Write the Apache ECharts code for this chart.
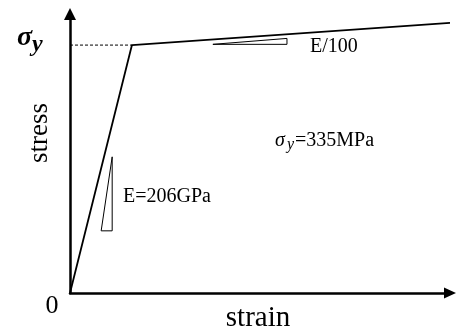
<!DOCTYPE html>
<html>
<head>
<meta charset="utf-8">
<script src="https://cdn.jsdelivr.net/npm/echarts@6/dist/echarts.min.js"></script>
<style>
  html, body { margin: 0; padding: 0; background: #fff; }
  #chart { width: 458px; height: 331px; }
</style>
</head>
<body>
<div id="chart"></div>
<script>
// bilinear stress-strain curve (schematic)
const strainPts = [0, 0.00163, 0.0100];
const stressPts = [0, 335, 365];
const yieldStrain = 0.00163;
const yieldStress = 335;
// slope triangles
const triElasticStrain = [0.00082, 0.00111, 0.00111, 0.00082];
const triElasticStress = [84, 184, 84, 84];
const triPlasticStrain = [0.00376, 0.00571, 0.00571, 0.00376];
const triPlasticStress = [336, 344, 336, 336];

const xMax = 0.0100;
const yMax = 377;

function zip(a, b) {
    return a.map(function (v, i) { return [v, b[i]]; });
}

const serif = '"Liberation Serif", "DejaVu Serif", serif';
const chart = echarts.init(document.getElementById('chart'));

chart.setOption({
    backgroundColor: '#fff',
    animation: false,
    grid: { left: 70, right: 8, top: 14, bottom: 38 },
    xAxis: {
        type: 'value',
        min: 0,
        max: xMax,
        axisLine: {
            onZero: false,
            symbol: ['none', 'triangle'],
            symbolSize: [11, 12],
            lineStyle: { color: '#000', width: 2.5 }
        },
        axisTick: { show: false },
        axisLabel: { show: false },
        splitLine: { show: false }
    },
    yAxis: {
        type: 'value',
        min: 0,
        max: yMax,
        axisLine: {
            show: true,
            onZero: false,
            symbol: ['none', 'triangle'],
            symbolSize: [12, 12],
            lineStyle: { color: '#000', width: 2.5 }
        },
        axisTick: { show: false },
        axisLabel: { show: false },
        splitLine: { show: false }
    },
    series: [
        {
            type: 'line',
            data: zip(strainPts, stressPts),
            symbol: 'none',
            lineStyle: { color: '#000', width: 1.8 },
            z: 3
        },
        {
            type: 'line',
            data: [[0, yieldStress], [yieldStrain, yieldStress]],
            symbol: 'none',
            lineStyle: { color: '#000', width: 1, type: [3, 2] }
        },
        {
            type: 'line',
            data: zip(triElasticStrain, triElasticStress),
            symbol: 'none',
            lineStyle: { color: '#000', width: 1 }
        },
        {
            type: 'line',
            data: zip(triPlasticStrain, triPlasticStress),
            symbol: 'none',
            lineStyle: { color: '#000', width: 1 }
        }
    ],
    graphic: [
        { type: 'text', x: 17, y: 38, style: { text: 'σ', font: 'italic bold 28px ' + serif, fill: '#000', align: 'left', verticalAlign: 'middle' } },
        { type: 'text', x: 32, y: 45, style: { text: 'y', font: 'italic bold 24px ' + serif, fill: '#000', align: 'left', verticalAlign: 'middle' } },
        { type: 'text', x: 52, y: 306, style: { text: '0', font: '26px ' + serif, fill: '#000', align: 'center', verticalAlign: 'middle' } },
        { type: 'text', x: 258, y: 318, style: { text: 'strain', font: '29px ' + serif, fill: '#000', align: 'center', verticalAlign: 'middle' } },
        { type: 'text', x: 40, y: 133, rotation: Math.PI / 2, style: { text: 'stress', font: '27px ' + serif, fill: '#000', align: 'center', verticalAlign: 'middle' } },
        { type: 'text', x: 310, y: 46.5, style: { text: 'E/100', font: '20px ' + serif, fill: '#000', align: 'left', verticalAlign: 'middle' } },
        { type: 'text', x: 123, y: 196.5, style: { text: 'E=206GPa', font: '20px ' + serif, fill: '#000', align: 'left', verticalAlign: 'middle' } },
        { type: 'text', x: 275, y: 140.6, style: { text: 'σ', font: 'italic 20px ' + serif, fill: '#000', align: 'left', verticalAlign: 'middle' } },
        { type: 'text', x: 287, y: 144.5, style: { text: 'y', font: 'italic 16px ' + serif, fill: '#000', align: 'left', verticalAlign: 'middle' } },
        { type: 'text', x: 295, y: 140.6, style: { text: '=335MPa', font: '20px ' + serif, fill: '#000', align: 'left', verticalAlign: 'middle' } }
    ]
});
</script>
</body>
</html>
